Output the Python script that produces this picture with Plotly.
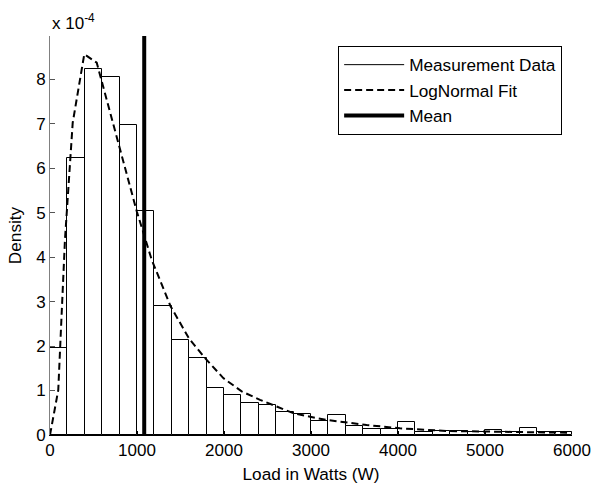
import plotly.graph_objects as go

# Histogram (bin width 200 W), density in units of 1e-4
bin_left = list(range(0, 6000, 200))
density_e4 = [1.95, 6.22, 8.22, 8.04, 6.98, 5.04, 2.89, 2.14, 1.74, 1.05,
              0.90, 0.71, 0.68, 0.52, 0.47, 0.32, 0.45, 0.20, 0.14, 0.14,
              0.29, 0.06, 0.10, 0.08, 0.07, 0.11, 0.06, 0.15, 0.06, 0.06]

# LogNormal fit curve (units of 1e-4)
fit_x = [0, 95, 172, 261, 394, 537, 997, 1169, 1387, 1601, 1782, 1992, 2203,
         2414, 2605, 2797, 3065, 3180, 3640, 4023, 4560, 5000, 5500, 6000]
fit_y = [0, 1.01, 4.39, 7.02, 8.56, 8.37, 5.03, 3.94, 2.89, 2.16, 1.73, 1.28,
         0.98, 0.79, 0.64, 0.49, 0.38, 0.34, 0.225, 0.15, 0.09, 0.075, 0.06, 0.05]

mean_load = 1083
y_top = 8.97

x_ticks = [0, 1000, 2000, 3000, 4000, 5000, 6000]
y_ticks = [0, 1, 2, 3, 4, 5, 6, 7, 8]

FONT = "Liberation Sans, Arial, sans-serif"

fig = go.Figure()
fig.add_trace(go.Bar(
    x=[b + 100 for b in bin_left], y=density_e4, width=200,
    marker=dict(color="white", line=dict(color="black", width=1)),
    showlegend=False, name="Measurement Data"))
fig.add_trace(go.Scatter(
    x=[None], y=[None], mode="lines", name="Measurement Data",
    line=dict(color="black", width=1)))
fig.add_trace(go.Scatter(
    x=fit_x, y=fit_y, mode="lines", name="LogNormal Fit",
    line=dict(color="black", width=2, dash="7px,4px")))
fig.add_trace(go.Scatter(
    x=[mean_load, mean_load], y=[0, y_top], mode="lines", name="Mean",
    line=dict(color="black", width=4)))

fig.update_layout(
    width=591, height=484,
    margin=dict(l=50, r=19, t=36, b=49, autoexpand=False),
    paper_bgcolor="white", plot_bgcolor="white",
    font=dict(family=FONT, size=17, color="black"),
    bargap=0,
    legend=dict(
        x=0.552, y=0.975, xanchor="left", yanchor="top",
        bordercolor="black", borderwidth=1, bgcolor="white",
        font=dict(size=17.2), itemwidth=60, tracegroupgap=0),
    xaxis=dict(
        range=[0, 6000], tickvals=x_ticks, ticks="inside", ticklen=4,
        tickcolor="black", showline=True, linecolor="black", linewidth=1,
        showgrid=False, zeroline=False, automargin=False,
        title=dict(text="Load in Watts (W)", font=dict(size=17.2), standoff=12)),
    yaxis=dict(
        range=[0, y_top], tickvals=y_ticks, ticks="inside", ticklen=5,
        tickcolor="#555", showline=True, linecolor="#808080", linewidth=1,
        showgrid=False, zeroline=False, automargin=False,
        title=dict(text="Density", font=dict(size=17.2), standoff=10)),
    annotations=[dict(
        text="x 10<sup>-4</sup>", xref="paper", yref="paper", x=0, y=1,
        xanchor="left", yanchor="bottom", showarrow=False, yshift=1,
        font=dict(size=17))],
)

fig.write_html("out.html")
